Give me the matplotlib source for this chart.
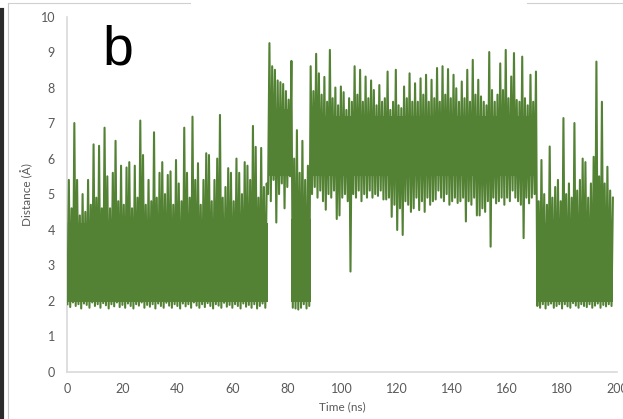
import numpy as np
import matplotlib
matplotlib.use("Agg")
import matplotlib.pyplot as plt
from matplotlib.lines import Line2D

# Distance trace, sampled per ns: the trough (lo) and crest (hi) reached in each ns
time_ns = np.arange(0, 199)

hi = [
    5.4, 4.6, 7.0, 5.4, 4.4, 5.0, 4.5, 5.4, 4.7, 6.4,
    4.9, 6.36, 4.6, 6.87, 5.5, 4.6, 5.6, 6.5, 4.8, 5.8,
    4.7, 5.75, 5.9, 4.6, 5.8, 4.9, 7.07, 6.1, 4.7, 5.4,
    4.8, 6.74, 4.9, 5.6, 5.9, 5.0, 5.54, 5.64, 4.7, 5.96,
    5.3, 4.8, 6.87, 5.6, 4.9, 7.18, 5.4, 5.87, 4.7, 5.4,
    6.15, 6.1, 4.8, 5.4, 6.0, 7.23, 4.9, 5.2, 5.73, 5.6,
    4.8, 6.0, 5.6, 5.0, 5.9, 5.8, 5.4, 6.92, 6.33, 4.9,
    6.3, 5.2, 5.3, 9.25, 8.6, 8.5, 8.2, 8.15, 8.1, 7.9,
    7.66, 8.75, 6.0, 6.8, 5.6, 6.5, 5.4, 5.8, 8.6, 7.9,
    8.95, 8.4, 7.8, 8.3, 7.6, 9.06, 7.7, 8.0, 7.5, 8.03,
    7.87, 7.37, 7.7, 7.6, 8.6, 7.8, 8.5, 7.6, 8.31, 7.7,
    8.2, 7.93, 7.5, 8.07, 7.6, 7.7, 8.45, 7.37, 7.6, 8.5,
    7.5, 7.42, 8.03, 7.7, 8.4, 7.6, 8.12, 7.6, 8.26, 7.8,
    8.36, 7.6, 8.22, 7.7, 8.55, 7.6, 8.6, 7.8, 8.52, 7.7,
    8.36, 7.98, 7.6, 8.17, 7.7, 8.5, 7.6, 8.78, 7.8, 8.22,
    7.75, 7.6, 7.5, 9.0, 7.93, 7.6, 7.8, 8.68, 7.93, 9.06,
    7.7, 8.31, 8.97, 7.65, 7.6, 8.87, 7.7, 7.5, 8.36, 7.6,
    8.45, 4.8, 5.96, 5.0, 4.7, 6.34, 4.9, 5.2, 5.4, 4.8,
    7.14, 5.0, 5.3, 4.9, 7.0, 5.1, 5.4, 6.0, 5.9, 4.9,
    5.3, 6.05, 8.73, 5.5, 7.6, 5.3, 5.77, 5.1, 4.9,
]

lo = [
    1.9, 1.82, 1.95, 1.85, 1.9, 1.78, 1.92, 1.88, 1.8, 1.95,
    1.85, 1.9, 1.8, 1.93, 1.87, 1.78, 1.9, 1.84, 1.95, 1.82,
    1.88, 1.8, 1.92, 1.85, 1.78, 1.9, 1.86, 1.95, 1.8, 1.88,
    1.83, 1.9, 1.78, 1.92, 1.85, 1.8, 1.94, 1.86, 1.8, 1.9,
    1.85, 1.78, 1.92, 1.84, 1.9, 1.8, 1.95, 1.86, 1.8, 1.9,
    1.82, 1.93, 1.85, 1.78, 1.9, 1.86, 1.8, 1.94, 1.83, 1.88,
    1.8, 1.9, 1.85, 1.78, 1.92, 1.83, 1.88, 1.8, 1.9, 1.78,
    1.85, 1.92, 1.8, 5.0, 4.8, 5.4, 4.2, 5.0, 5.3, 4.6,
    5.2, 5.5, 1.8, 1.78, 1.75, 1.8, 1.9, 1.78, 1.85, 5.0,
    5.2, 4.9, 5.1, 4.8, 4.56, 5.0, 4.9, 5.1, 4.3, 4.4,
    4.9, 5.0, 4.8, 2.82, 5.0, 4.9, 5.1, 4.8, 5.0, 4.9,
    5.1, 4.9, 5.0, 4.95, 5.1, 4.85, 4.85, 4.9, 4.36, 4.7,
    3.99, 4.6, 3.85, 4.8, 4.7, 4.5, 4.6, 4.9, 4.55, 4.8,
    4.5, 4.9, 4.7, 4.8, 4.85, 5.1, 4.9, 4.8, 5.0, 4.7,
    4.8, 4.9, 4.75, 4.8, 4.9, 4.23, 4.8, 4.7, 4.9, 4.4,
    4.4, 4.6, 4.5, 4.8, 3.52, 4.9, 4.74, 4.8, 4.9, 4.7,
    4.9, 4.8, 5.1, 4.9, 4.8, 4.7, 3.76, 4.9, 4.74, 4.9,
    5.0, 1.85, 1.8, 1.9, 1.78, 1.88, 1.92, 1.8, 1.85, 1.9,
    1.78, 1.9, 1.84, 1.8, 1.93, 1.86, 1.8, 1.9, 1.85, 1.82,
    1.9, 1.8, 1.86, 1.92, 1.8, 1.88, 1.84, 1.9, 1.85,
]

# Dense core of each conformational state (ns ranges and distance band)
seg_start = [0, 73, 81.5, 88.5, 170.5]
seg_end = [73, 81.5, 88.5, 170.5, 198.5]
core_lo = [1.95, 5.5, 1.95, 5.5, 1.95]
core_hi = [4.2, 7.4, 4.3, 7.2, 4.2]

x_ticks = list(range(0, 201, 20))
y_ticks = list(range(0, 11))

GREEN = "#548235"
GRID_GREY = "#d9d9d9"
TEXT_GREY = "#595959"

fig = plt.figure(figsize=(6.23, 4.19), dpi=100)
ax = fig.add_axes([0.1083, 0.1129, 0.8821, 0.8477])

for s, e, cl, ch in zip(seg_start, seg_end, core_lo, core_hi):
    ax.fill_between([s, e], [cl, cl], [ch, ch], color=GREEN, lw=0, zorder=2)

t = np.asarray(time_ns, dtype=float)
xs = np.column_stack([t, t + 0.5]).ravel()
ys = np.column_stack([np.asarray(lo), np.asarray(hi)]).ravel()
ax.plot(xs, ys, color=GREEN, lw=1.5, solid_joinstyle="round", zorder=3)

ax.set_xlim(0, 200)
ax.set_ylim(0, 10)
ax.set_xticks(x_ticks)
ax.set_yticks(y_ticks)
ax.tick_params(length=0, labelsize=9, labelcolor=TEXT_GREY)
ax.tick_params(axis="y", pad=9)
ax.tick_params(axis="x", pad=8)
for lab in ax.get_xticklabels() + ax.get_yticklabels():
    lab.set_family("Lato")
for side in ("top", "right"):
    ax.spines[side].set_visible(False)
for side in ("left", "bottom"):
    ax.spines[side].set_color(GRID_GREY)
    ax.spines[side].set_linewidth(1.2)

ax.set_xlabel("Time (ns)", fontsize=8.5, color=TEXT_GREY, family="Lato", labelpad=5)
ax.set_ylabel("Distance (Å)", fontsize=8.5, color=TEXT_GREY, family="Lato", labelpad=5)

fig.text(0.164, 0.845, "b", fontsize=40, family="Liberation Sans", color="black")

# panel frame remnants
W, H = 623.0, 419.0
fig.add_artist(Line2D([2 / W, 2 / W], [0, 1 - 10 / H], color="#2b2b2b", lw=3))
fig.add_artist(Line2D([7.5 / W, 7.5 / W], [0, 1 - 3 / H], color="#c8c8c8", lw=0.8))
fig.add_artist(Line2D([7.5 / W, 190 / W], [1 - 3 / H, 1 - 3 / H], color="#d0d0d0", lw=0.8))
fig.add_artist(Line2D([527 / W, 1], [1 - 3 / H, 1 - 3 / H], color="#d0d0d0", lw=0.8))

fig.savefig("out.png", dpi=100)
